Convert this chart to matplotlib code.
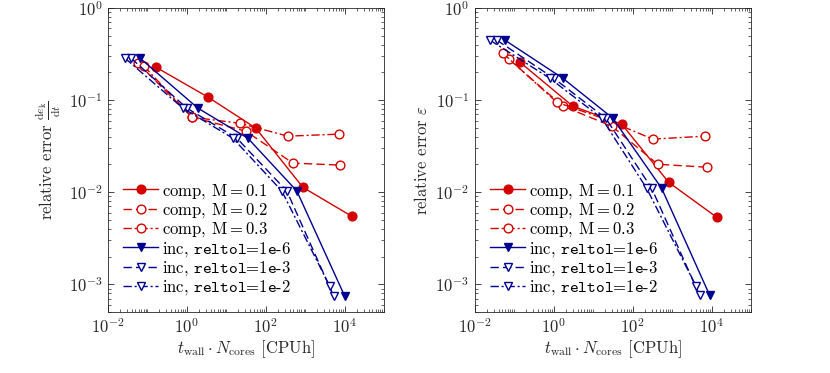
import numpy as np
import matplotlib
matplotlib.use("Agg")
import matplotlib.pyplot as plt
from matplotlib.ticker import LogLocator, NullFormatter, FixedLocator

plt.rcParams['font.family'] = ['cmr10']
plt.rcParams['mathtext.fontset'] = 'cm'
plt.rcParams['axes.formatter.use_mathtext'] = True
plt.rcParams['font.size'] = 12

# ---------------- data: left panel (d e_k / dt) ----------------
L_comp01_x = [0.164, 3.40, 55.8, 865, 15000]
L_comp01_y = [0.228, 0.108, 0.0496, 0.0113, 0.00548]
L_comp02_x = [0.0575, 1.34, 31.2, 483, 7470]
L_comp02_y = [0.252, 0.0653, 0.046, 0.0207, 0.0197]
L_comp03_x = [0.0815, 1.34, 22.0, 360, 7050]
L_comp03_y = [0.234, 0.0653, 0.056, 0.0406, 0.0427]
L_inc6_x = [0.0646, 1.90, 35.0, 610, 10000]
L_inc6_y = [0.286, 0.0818, 0.0386, 0.0103, 0.00074]
L_inc3_x = [0.0382, 1.00, 18.4, 340, 5270]
L_inc3_y = [0.286, 0.0818, 0.0386, 0.0103, 0.00074]
L_inc2_x = [0.0269, 0.79, 14.6, 254, 4170]
L_inc2_y = [0.286, 0.0818, 0.0386, 0.0103, 0.00095]

# ---------------- data: right panel (epsilon) ----------------
R_comp01_x = [0.138, 3.03, 52.7, 815, 13400]
R_comp01_y = [0.259, 0.086, 0.0548, 0.0128, 0.00535]
R_comp02_x = [0.0726, 1.69, 29.4, 430, 7470]
R_comp02_y = [0.279, 0.086, 0.0522, 0.0201, 0.0187]
R_comp03_x = [0.0512, 1.19, 23.3, 321, 6650]
R_comp03_y = [0.324, 0.095, 0.0607, 0.0377, 0.0406]
R_inc6_x = [0.0575, 1.69, 31.2, 542, 8900]
R_inc6_y = [0.449, 0.173, 0.0637, 0.0110, 0.00076]
R_inc3_x = [0.036, 1.00, 20.7, 303, 4970]
R_inc3_y = [0.449, 0.173, 0.0637, 0.0110, 0.00076]
R_inc2_x = [0.024, 0.79, 16.4, 226, 3940]
R_inc2_y = [0.449, 0.173, 0.0637, 0.0110, 0.00097]

labels = [r"comp, $\mathrm{M} = 0.1$", r"comp, $\mathrm{M} = 0.2$", r"comp, $\mathrm{M} = 0.3$",
          r"inc, $\mathtt{reltol}$=$\mathtt{1e}$-$\mathtt{6}$",
          r"inc, $\mathtt{reltol}$=$\mathtt{1e}$-$\mathtt{3}$",
          r"inc, $\mathtt{reltol}$=$\mathtt{1e}$-$\mathtt{2}$"]

RED = '#d40000'
BLUE = '#000090'
styles = [
    dict(color=RED, ls='-', marker='o', mfc=RED),
    dict(color=RED, ls=(0, (6, 3)), marker='o', mfc='white'),
    dict(color=RED, ls=(0, (6, 2, 1.5, 2)), marker='o', mfc='white'),
    dict(color=BLUE, ls='-', marker='v', mfc=BLUE),
    dict(color=BLUE, ls=(0, (6, 3)), marker='v', mfc='white'),
    dict(color=BLUE, ls=(0, (6, 2, 1.5, 2)), marker='v', mfc='white'),
]

fig = plt.figure(figsize=(8.3, 3.73), dpi=100)
axL = fig.add_axes([0.130, 0.1635, 0.333, 0.815])
axR = fig.add_axes([0.572, 0.1635, 0.333, 0.815])

left_data = [(L_comp01_x, L_comp01_y), (L_comp02_x, L_comp02_y), (L_comp03_x, L_comp03_y),
             (L_inc6_x, L_inc6_y), (L_inc3_x, L_inc3_y), (L_inc2_x, L_inc2_y)]
right_data = [(R_comp01_x, R_comp01_y), (R_comp02_x, R_comp02_y), (R_comp03_x, R_comp03_y),
              (R_inc6_x, R_inc6_y), (R_inc3_x, R_inc3_y), (R_inc2_x, R_inc2_y)]

TXT = '#262626'
for ax, data in [(axL, left_data), (axR, right_data)]:
    for (x, y), st, lab in zip(data, styles, labels):
        ax.plot(x, y, lw=1.0, ms=6.3, mew=1.0, mec=st['color'], label=lab, **st)
    ax.set_xscale('log')
    ax.set_yscale('log')
    ax.set_xlim(1e-2, 1e5)
    ax.set_ylim(5e-4, 1)
    ax.xaxis.set_major_locator(FixedLocator([1e-2, 1e0, 1e2, 1e4]))
    ax.xaxis.set_minor_locator(LogLocator(base=10, subs=np.arange(1, 10), numticks=50))
    ax.xaxis.set_minor_formatter(NullFormatter())
    ax.yaxis.set_major_locator(FixedLocator([1e-3, 1e-2, 1e-1, 1e0]))
    ax.yaxis.set_minor_locator(LogLocator(base=10, subs=np.arange(2, 10), numticks=50))
    ax.yaxis.set_minor_formatter(NullFormatter())
    ax.tick_params(which='both', direction='in', top=True, right=True, colors=TXT, labelsize=12)
    ax.tick_params(which='major', length=4, width=0.6, pad=4)
    ax.tick_params(which='minor', length=2, width=0.5)
    for sp in ax.spines.values():
        sp.set_color(TXT)
        sp.set_linewidth(0.6)
    ax.set_xlabel(r"$t_\mathrm{wall} \cdot N_\mathrm{cores}$ [CPUh]", fontsize=12, color=TXT, labelpad=1)
    leg = ax.legend(loc='lower left', frameon=False, fontsize=12, handlelength=2.1,
                    handletextpad=0.2, labelspacing=0.02, borderaxespad=0.2,
                    bbox_to_anchor=(0.02, 0.016))

axL.set_ylabel(r"relative error $\frac{\mathrm{d}e_\mathrm{k}}{\mathrm{d}t}$", fontsize=12, color=TXT)
axR.set_ylabel(r"relative error $\varepsilon$", fontsize=12, color=TXT)

fig.savefig("out.png", dpi=100)
